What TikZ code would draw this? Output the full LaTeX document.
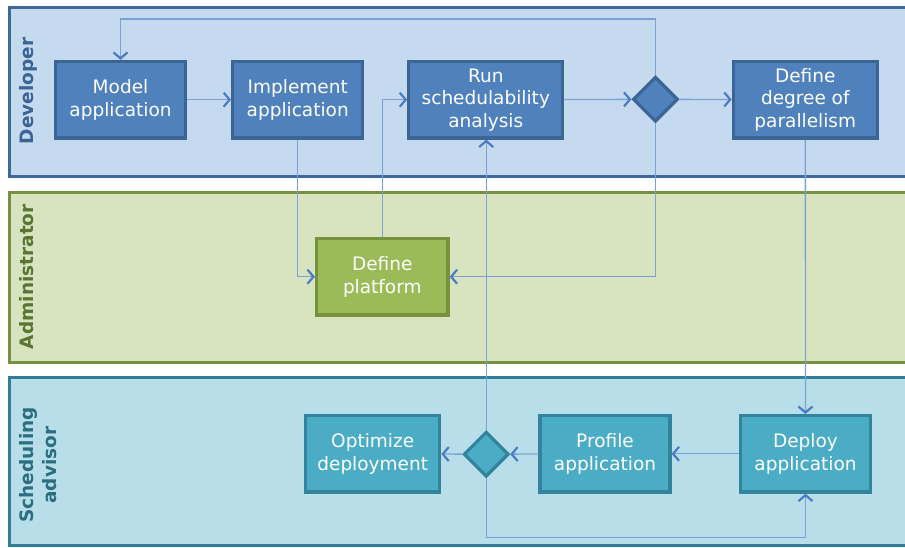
\documentclass[tikz,border=0pt]{standalone}
\usepackage{fontspec}
\setmainfont{DejaVu Sans}
\usetikzlibrary{arrows.meta,shapes.geometric}

\definecolor{devfill}{HTML}{C6DAEF}
\definecolor{devline}{HTML}{3E6A9B}
\definecolor{devtext}{HTML}{3A6494}
\definecolor{admfill}{HTML}{D8E4BF}
\definecolor{admline}{HTML}{76913F}
\definecolor{admtext}{HTML}{5B7432}
\definecolor{schfill}{HTML}{B8DFE9}
\definecolor{schline}{HTML}{327F95}
\definecolor{schtext}{HTML}{2B6E80}
\definecolor{bluebox}{HTML}{4F81BD}
\definecolor{blueedge}{HTML}{3A6595}
\definecolor{greenbox}{HTML}{9BBB59}
\definecolor{greenedge}{HTML}{76923C}
\definecolor{tealbox}{HTML}{4BACC6}
\definecolor{tealedge}{HTML}{31849B}
\definecolor{flowline}{HTML}{7BA2D6}
\definecolor{flowtip}{HTML}{4A7BC4}

\begin{document}
\begin{tikzpicture}[x=1pt,y=-1pt,
  lane/.style={line width=3pt},
  lanelabel/.style={rotate=90, anchor=base, font=\fontsize{18.5}{23}\selectfont\bfseries, align=center},
  task/.style={rectangle, draw, line width=3.2pt, minimum height=76.5pt, inner sep=2pt,
    text=white, align=center, font=\fontsize{18.5}{22.5}\selectfont},
  choice/.style={diamond, draw, line width=3.2pt, minimum width=45pt, minimum height=45pt, inner sep=0pt},
  flow/.style={draw=flowline, line width=1.3pt,
    -{Straight Barb[length=6pt,width=14pt,line width=2.2pt,color=flowtip]}}]
  \useasboundingbox (0,0) rectangle (905,547);
  \clip (0,0) rectangle (905,547);

  % swimlanes
  \draw[lane, draw=devline, fill=devfill] (9.5,7.5) rectangle (920,176.5);
  \draw[lane, draw=admline, fill=admfill] (9.5,192) rectangle (920,362);
  \draw[lane, draw=schline, fill=schfill] (9.5,377) rectangle (920,545.5);
  \node[lanelabel, text=devtext] (ldev) at (33,91) {Developer};
  \node[lanelabel, text=admtext] (ladm) at (33,276.7) {Administrator};
  \node[lanelabel, text=schtext, anchor=center] (lsch) at (38,465) {Scheduling\\advisor};

  % developer
  \node[task, fill=bluebox, draw=blueedge, minimum width=130.5pt] (model) at (120.5,99.7) {Model\\application};
  \node[task, fill=bluebox, draw=blueedge, minimum width=130pt] (impl) at (297.7,99.7) {Implement\\application};
  \node[task, fill=bluebox, draw=blueedge, minimum width=154pt] (run) at (485.8,99.7) {Run\\schedulability\\analysis};
  \node[choice, fill=bluebox, draw=blueedge] (dec1) at (655.5,99.3) {};
  \node[task, fill=bluebox, draw=blueedge, minimum width=144pt] (par) at (805.3,99.7) {Define\\degree of\\parallelism};

  % administrator
  \node[task, fill=greenbox, draw=greenedge, minimum width=131.5pt] (plat) at (382.3,276.7) {Define\\platform};

  % scheduling advisor
  \node[task, fill=tealbox, draw=tealedge, minimum width=134pt] (opt) at (372.7,453.8) {Optimize\\deployment};
  \node[choice, fill=tealbox, draw=tealedge] (dec2) at (486.2,454.2) {};
  \node[task, fill=tealbox, draw=tealedge, minimum width=130pt] (prof) at (605,453.8) {Profile\\application};
  \node[task, fill=tealbox, draw=tealedge, minimum width=130pt] (deploy) at (805.5,453.8) {Deploy\\application};

  \coordinate (turn) at (120.5,19);
  \coordinate (back) at (805.5,537.3);

  \draw[flow] (model) -- (impl);
  \draw[flow] (impl.south) |- (plat.west);
  \draw[flow] (plat.north) |- (run.west);
  \draw[flow] (run) -- (dec1);
  \draw[flow] (dec1) -- (par);
  \draw[flow] (dec1.north) |- (turn) -- (model.north);
  \draw[flow] (dec1.south) |- (plat.east);
  \draw[flow] (par) -- (deploy);
  \draw[flow] (deploy) -- (prof);
  \draw[flow] (prof) -- (dec2);
  \draw[flow] (dec2) -- (opt);
  \draw[flow] (dec2.north) -- (dec2.north |- run.south);
  \draw[flow] (dec2.south) |- (back) -- (deploy.south);
\end{tikzpicture}
\end{document}
